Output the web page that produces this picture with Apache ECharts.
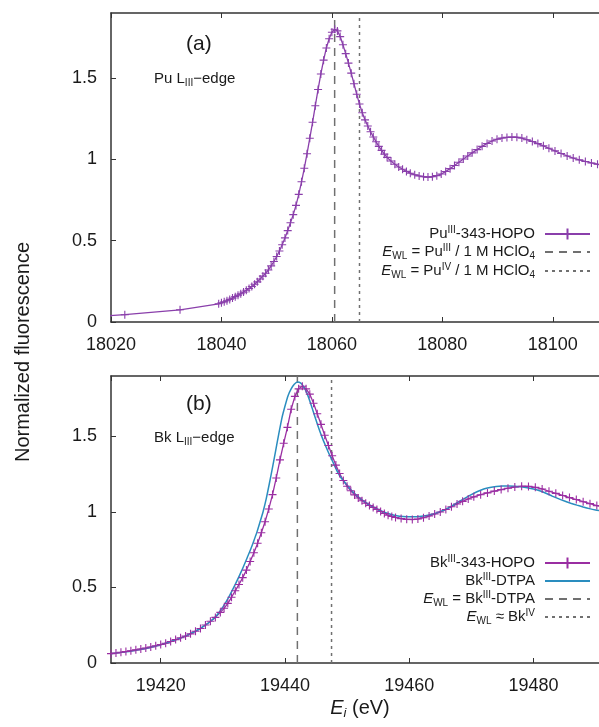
<!DOCTYPE html>
<html>
<head>
<meta charset="utf-8">
<script src="https://cdn.jsdelivr.net/npm/echarts@6.0.0/dist/echarts.min.js"></script>
<style>
  html, body { margin: 0; padding: 0; background: #fff; }
  #container { width: 599px; height: 727px; }
</style>
</head>
<body>
<div id="container"></div>
<script>
// ---- data ----
// (a) Pu LIII-edge, Pu(III)-343-HOPO
var puE = [18012.5, 18022.5, 18032.5, 18039.5,
  18040.0, 18040.5, 18041.0, 18041.5, 18042.0, 18042.5, 18043.0, 18043.5, 18044.0, 18044.5,
  18045.0, 18045.5, 18046.0, 18046.5, 18047.0, 18047.5, 18048.0, 18048.5, 18049.0, 18049.5,
  18050.0, 18050.5, 18051.0, 18051.5, 18052.0, 18052.5, 18053.0, 18053.5, 18054.0, 18054.5,
  18055.0, 18055.5, 18056.0, 18056.5, 18057.0, 18057.5, 18058.0, 18058.5, 18059.0, 18059.5,
  18060.0, 18060.5, 18061.0, 18061.5, 18062.0, 18062.5, 18063.0, 18063.5, 18064.0, 18064.5,
  18065.0, 18065.5, 18066.0, 18066.5, 18067.0, 18067.5, 18068.0, 18068.5, 18069.0, 18069.5,
  18070.0,
  18070.7, 18071.4, 18072.1, 18072.8, 18073.5, 18074.2, 18075.0, 18075.8, 18076.6, 18077.4,
  18078.2, 18079.0, 18079.8, 18080.6, 18081.4, 18082.2, 18083.0, 18083.8, 18084.6, 18085.4,
  18086.3, 18087.2, 18088.1, 18089.0, 18089.9, 18090.8, 18091.7, 18092.6, 18093.5, 18094.4,
  18095.3, 18096.3, 18097.3, 18098.3, 18099.3, 18100.4, 18101.5, 18102.6, 18103.7, 18104.8,
  18105.9, 18107.0, 18108.1, 18109.2, 18110.3];
var puV = [0.025, 0.045, 0.075, 0.112,
  0.118, 0.124, 0.131, 0.139, 0.147, 0.156, 0.165, 0.174, 0.184, 0.195,
  0.206, 0.218, 0.232, 0.247, 0.264, 0.282, 0.300, 0.320, 0.345, 0.372,
  0.403, 0.437, 0.475, 0.517, 0.562, 0.610, 0.660, 0.717, 0.785, 0.862,
  0.945, 1.035, 1.130, 1.228, 1.330, 1.430, 1.525, 1.610, 1.685, 1.742,
  1.782, 1.800, 1.790, 1.755, 1.705, 1.650, 1.592, 1.530, 1.465, 1.400,
  1.340, 1.287, 1.243, 1.205, 1.170, 1.138, 1.108, 1.080, 1.055, 1.032,
  1.012,
  0.990, 0.970, 0.953, 0.939, 0.926, 0.915, 0.905, 0.898, 0.893, 0.891,
  0.893, 0.900, 0.910, 0.925, 0.943, 0.962, 0.982, 1.002, 1.021, 1.040,
  1.060, 1.080, 1.098, 1.113, 1.124, 1.131, 1.135, 1.137, 1.136, 1.131,
  1.121, 1.110, 1.097, 1.083, 1.068, 1.052, 1.036, 1.021, 1.008, 0.997,
  0.987, 0.978, 0.970, 0.962, 0.955];
var puWL = [18060.5, 18065.0];   // Pu(III), Pu(IV) white lines

// (b) Bk LIII-edge, Bk(III)-343-HOPO
var bkHopoE = [19412.0, 19412.8, 19413.6, 19414.4, 19415.2, 19416.0, 19416.8, 19417.6, 19418.4, 19419.2,
  19420.0, 19420.8, 19421.6, 19422.4, 19423.2, 19424.0, 19424.8, 19425.6, 19426.4, 19427.2,
  19428.0, 19428.8, 19429.6,
  19430.2, 19430.8, 19431.4, 19432.0, 19432.6, 19433.2, 19433.8, 19434.4, 19435.0, 19435.6,
  19436.2, 19436.8, 19437.4, 19438.0, 19438.6, 19439.2, 19439.8, 19440.4, 19441.0, 19441.6,
  19442.2, 19442.8, 19443.4, 19444.0, 19444.6, 19445.2, 19445.8, 19446.4, 19447.0, 19447.6,
  19448.2, 19448.8, 19449.4, 19450.0, 19450.6, 19451.2, 19451.8, 19452.4, 19453.0, 19453.6,
  19454.2, 19454.8, 19455.4, 19456.0, 19456.6, 19457.2, 19457.8,
  19458.7, 19459.6, 19460.5, 19461.4, 19462.3, 19463.2, 19464.1, 19465.0, 19465.9, 19466.8,
  19467.7, 19468.6, 19469.5, 19470.4,
  19471.5, 19472.6, 19473.7, 19474.8, 19475.9, 19477.0, 19478.1, 19479.2, 19480.3, 19481.4,
  19482.5, 19483.6, 19484.7, 19485.8, 19486.9, 19488.0, 19489.1, 19490.2, 19491.3];
var bkHopoV = [0.062, 0.066, 0.071, 0.076, 0.081, 0.087, 0.093, 0.099, 0.106, 0.114,
  0.122, 0.131, 0.142, 0.155, 0.167, 0.178, 0.193, 0.210, 0.228, 0.252,
  0.276, 0.302, 0.335,
  0.362, 0.395, 0.435, 0.478, 0.520, 0.565, 0.615, 0.672, 0.730, 0.793,
  0.862, 0.935, 1.020, 1.115, 1.225, 1.345, 1.455, 1.560, 1.680, 1.765,
  1.815, 1.832, 1.815, 1.780, 1.720, 1.650, 1.580, 1.508, 1.440, 1.372,
  1.310, 1.255, 1.208, 1.170, 1.140, 1.113, 1.092, 1.074, 1.058, 1.043,
  1.030, 1.017, 1.003, 0.990, 0.978, 0.970, 0.963,
  0.956, 0.951, 0.950, 0.953, 0.962, 0.973, 0.986, 1.000, 1.016, 1.034,
  1.053, 1.070, 1.086, 1.100,
  1.114, 1.126, 1.138, 1.148, 1.157, 1.165, 1.170, 1.169, 1.163, 1.152,
  1.137, 1.123, 1.109, 1.095, 1.082, 1.068, 1.055, 1.042, 1.030];

// (b) Bk(III)-DTPA
var bkDtpaE = [19412, 19414, 19416, 19418, 19420, 19422, 19424, 19426, 19427, 19428,
  19429, 19430, 19431, 19432, 19433, 19434, 19434.5, 19435, 19435.5, 19436,
  19436.5, 19437, 19437.5, 19438, 19438.5, 19439, 19439.5, 19440, 19440.5, 19441,
  19441.5, 19442, 19442.5, 19443, 19443.5, 19444, 19444.5, 19445, 19445.5, 19446,
  19446.5, 19447, 19447.5, 19448, 19448.5, 19449, 19450, 19451, 19452, 19453,
  19454, 19455, 19456, 19457, 19458, 19459, 19460, 19461, 19462, 19463,
  19464, 19465, 19466, 19467, 19468, 19469, 19470, 19471, 19472, 19473,
  19474, 19475, 19476, 19477, 19478, 19479, 19480, 19481, 19482, 19483,
  19484, 19485, 19486, 19487, 19488, 19489, 19490, 19491];
var bkDtpaV = [0.062, 0.072, 0.085, 0.100, 0.120, 0.147, 0.178, 0.220, 0.245, 0.275,
  0.315, 0.370, 0.440, 0.520, 0.608, 0.705, 0.755, 0.810, 0.868, 0.935,
  1.005, 1.090, 1.190, 1.295, 1.405, 1.515, 1.620, 1.700, 1.770, 1.815,
  1.845, 1.860, 1.855, 1.830, 1.790, 1.735, 1.672, 1.608, 1.548, 1.492,
  1.442, 1.394, 1.350, 1.305, 1.262, 1.228, 1.178, 1.130, 1.094, 1.063,
  1.038, 1.016, 0.998, 0.985, 0.975, 0.970, 0.968, 0.968, 0.972, 0.978,
  0.988, 1.002, 1.020, 1.043, 1.068, 1.092, 1.115, 1.135, 1.152, 1.162,
  1.168, 1.171, 1.171, 1.170, 1.166, 1.160, 1.152, 1.140, 1.124, 1.105,
  1.088, 1.072, 1.058, 1.045, 1.033, 1.022, 1.013, 1.006];
var bkWL = [19442.0, 19447.5];   // Bk(III)-DTPA, Bk(IV) white lines

var yMax = 1.9;

// ---- helpers ----
var FONT = '"Liberation Sans", Arial, Helvetica, sans-serif';
var TXT = '#1a1a1a';
var AXC = '#333333';
var PU_COLOR = '#8a3fab';
var BK_COLOR = '#9a2ea2';
var DTPA_COLOR = '#2a8dbf';
var WL_COLOR = '#707070';
var PLUS = 'path://M0,5L10,5M5,0L5,10';

function zip(xs, ys) {
  return xs.map(function (x, i) { return [x, ys[i]]; });
}
function vline(x) {
  return [[x, 0], [x, yMax]];
}

var RICH = {
  sup: { fontSize: 10, lineHeight: 10, verticalAlign: 'top', fontFamily: FONT, color: TXT },
  sub: { fontSize: 10, lineHeight: 10, verticalAlign: 'bottom', fontFamily: FONT, color: TXT },
  i: { fontSize: 15, fontStyle: 'italic', fontFamily: FONT, color: TXT, lineHeight: 18 }
};

var legendLabels = {
  'Pu-HOPO': 'Pu{sup|III}-343-HOPO',
  'Pu-III': '{i|E}{sub|WL} = Pu{sup|III} / 1 M HClO{sub|4}',
  'Pu-IV': '{i|E}{sub|WL} = Pu{sup|IV} / 1 M HClO{sub|4}',
  'Bk-HOPO': 'Bk{sup|III}-343-HOPO',
  'Bk-DTPA': 'Bk{sup|III}-DTPA',
  'Bk-WL': '{i|E}{sub|WL} = Bk{sup|III}-DTPA',
  'Bk-IV': '{i|E}{sub|WL} \u2248 Bk{sup|IV}'
};

// one legend per row so that all sample lines line up on the right
function legendRow(name, centerY, lineOnly) {
  var lg = {
    data: [name],
    orient: 'vertical',
    align: 'right',
    right: 8,
    top: centerY - 9,
    padding: 0,
    itemWidth: 45,
    itemHeight: 14,
    selectedMode: false,
    formatter: function (n) { return legendLabels[n]; },
    textStyle: {
      fontFamily: FONT, fontSize: 15, color: TXT, lineHeight: 18,
      padding: [0, 5, 0, 0], rich: RICH
    }
  };
  if (lineOnly) {
    lg.itemStyle = { opacity: 0 };
  }
  return lg;
}

function tickText(v) {
  return String(v);
}

function xAxisDef(gridIndex, position, min, max, showLabel) {
  var ax = {
    type: 'value',
    gridIndex: gridIndex,
    position: position,
    min: min,
    max: max,
    axisLine: { show: true, onZero: false, lineStyle: { color: AXC, width: 1.5 } },
    axisTick: { show: true, inside: true, length: 5, lineStyle: { color: AXC, width: 1 } },
    axisLabel: {
      show: showLabel, fontFamily: FONT, fontSize: 18, color: TXT, margin: 14,
      formatter: tickText,
      showMinLabel: min % 20 === 0, showMaxLabel: false
    },
    splitLine: { show: false }
  };
  if (min % 20 === 0) {
    ax.interval = 20;
  } else {
    ax.splitNumber = 4;
  }
  return ax;
}

function yAxisDef(gridIndex) {
  return {
    type: 'value',
    gridIndex: gridIndex,
    position: 'left',
    min: 0,
    max: yMax,
    interval: 0.5,
    axisLine: { show: true, onZero: false, lineStyle: { color: AXC, width: 1.5 } },
    axisTick: { show: true, inside: true, length: 5, lineStyle: { color: AXC, width: 1 } },
    axisLabel: {
      fontFamily: FONT, fontSize: 18, color: TXT, margin: 14, showMaxLabel: false,
      formatter: tickText
    },
    splitLine: { show: false }
  };
}

var dom = document.getElementById('container');
var myChart = echarts.init(dom, null, { renderer: 'canvas' });

var option = {
  animation: false,
  backgroundColor: '#ffffff',
  grid: [
    { left: 111, top: 13, width: 497, height: 309, outerBoundsMode: 'none', containLabel: false },
    { left: 111, top: 376, width: 497, height: 287, outerBoundsMode: 'none', containLabel: false }
  ],
  xAxis: [
    xAxisDef(0, 'bottom', 18020, 18110, true),
    xAxisDef(0, 'top', 18020, 18110, false),
    xAxisDef(1, 'bottom', 19412, 19492, true),
    xAxisDef(1, 'top', 19412, 19492, false)
  ],
  yAxis: [yAxisDef(0), yAxisDef(1)],
  legend: [
    legendRow('Pu-HOPO', 234, false),
    legendRow('Pu-III', 252, true),
    legendRow('Pu-IV', 271, true),
    legendRow('Bk-HOPO', 563, false),
    legendRow('Bk-DTPA', 581, true),
    legendRow('Bk-WL', 599, true),
    legendRow('Bk-IV', 617, true)
  ],
  series: [
    {
      name: 'Pu-III', type: 'line', xAxisIndex: 0, yAxisIndex: 0,
      data: vline(puWL[0]), symbol: 'none',
      lineStyle: { color: WL_COLOR, width: 1.5, type: [8, 6] },
      itemStyle: { color: WL_COLOR }
    },
    {
      name: 'Pu-IV', type: 'line', xAxisIndex: 0, yAxisIndex: 0,
      data: vline(puWL[1]), symbol: 'none',
      lineStyle: { color: WL_COLOR, width: 1.5, type: [3, 4] },
      itemStyle: { color: WL_COLOR }
    },
    {
      name: 'Pu-HOPO', type: 'line', xAxisIndex: 0, yAxisIndex: 0,
      data: zip(puE, puV),
      symbol: PLUS, symbolSize: 8,
      lineStyle: { color: PU_COLOR, width: 1.3 },
      itemStyle: { color: PU_COLOR, borderColor: PU_COLOR, borderWidth: 1.1 }
    },
    {
      name: 'Bk-WL', type: 'line', xAxisIndex: 2, yAxisIndex: 1,
      data: vline(bkWL[0]), symbol: 'none',
      lineStyle: { color: WL_COLOR, width: 1.5, type: [8, 6] },
      itemStyle: { color: WL_COLOR }
    },
    {
      name: 'Bk-IV', type: 'line', xAxisIndex: 2, yAxisIndex: 1,
      data: vline(bkWL[1]), symbol: 'none',
      lineStyle: { color: WL_COLOR, width: 1.5, type: [3, 4] },
      itemStyle: { color: WL_COLOR }
    },
    {
      name: 'Bk-HOPO', type: 'line', xAxisIndex: 2, yAxisIndex: 1,
      data: zip(bkHopoE, bkHopoV),
      symbol: PLUS, symbolSize: 8,
      lineStyle: { color: BK_COLOR, width: 1.3 },
      itemStyle: { color: BK_COLOR, borderColor: BK_COLOR, borderWidth: 1.1 }
    },
    {
      name: 'Bk-DTPA', type: 'line', xAxisIndex: 2, yAxisIndex: 1,
      data: zip(bkDtpaE, bkDtpaV),
      symbol: 'none', smooth: 0.2,
      lineStyle: { color: DTPA_COLOR, width: 1.5 },
      itemStyle: { color: DTPA_COLOR }
    }
  ],
  graphic: [
    {
      type: 'text', left: 186, top: 34,
      style: { text: '(a)', fontFamily: FONT, fontSize: 21, fill: TXT }
    },
    {
      type: 'text', left: 154, top: 70,
      style: {
        text: 'Pu L{sub|III}\u2212edge', fontFamily: FONT, fontSize: 15, fill: TXT, lineHeight: 18,
        rich: RICH
      }
    },
    {
      type: 'text', left: 186, top: 394,
      style: { text: '(b)', fontFamily: FONT, fontSize: 21, fill: TXT }
    },
    {
      type: 'text', left: 154, top: 429,
      style: {
        text: 'Bk L{sub|III}\u2212edge', fontFamily: FONT, fontSize: 15, fill: TXT, lineHeight: 18,
        rich: RICH
      }
    },
    {
      type: 'text', x: 23, y: 352, rotation: Math.PI / 2,
      style: {
        text: 'Normalized fluorescence', fontFamily: FONT, fontSize: 20, fill: TXT,
        align: 'center', verticalAlign: 'middle'
      }
    },
    {
      type: 'text', x: 360, y: 708,
      style: {
        text: '{e|E}{s|i} (eV)', fontFamily: FONT, fontSize: 20, fill: TXT,
        align: 'center', verticalAlign: 'middle', lineHeight: 24,
        rich: {
          e: { fontSize: 20, fontStyle: 'italic', fontFamily: FONT, lineHeight: 24 },
          s: { fontSize: 13, fontStyle: 'italic', fontFamily: FONT, lineHeight: 14, verticalAlign: 'bottom' }
        }
      }
    }
  ]
};

myChart.setOption(option, true);
</script>
</body>
</html>
